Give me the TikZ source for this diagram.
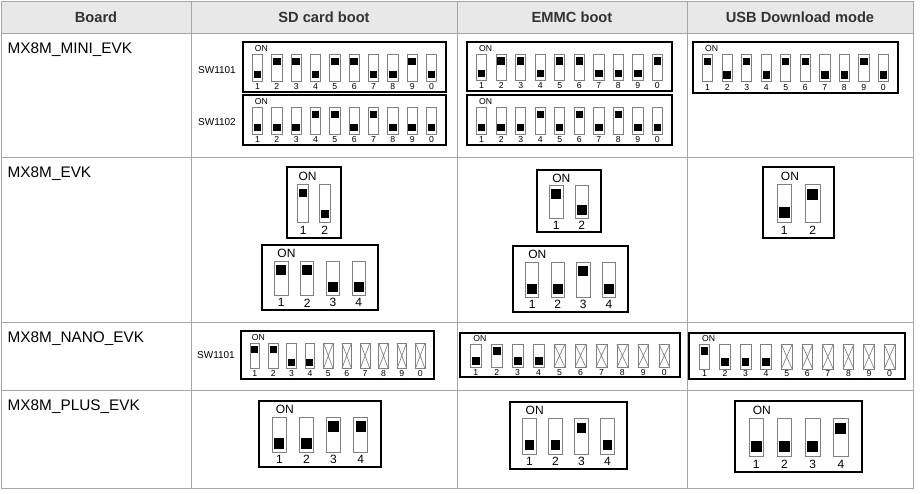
\documentclass[tikz,border=0pt]{standalone}
\usepackage{fontspec}
\setmainfont{Liberation Sans}
\newcommand\dipsw[7]{%
  \pgfmathsetmacro\pp{(#3-#1)/(#5+0.5)}
  \pgfmathsetmacro\hh{#4-#2}
  \draw[swbox] (#1,#2) rectangle (#3,#4);
  \node[font=#7] at (#1+0.75*\pp+0.2*\pp,#2+0.13*\hh) {ON};
  \foreach \s [count=\i] in {#6} {
    \pgfmathsetmacro\cx{#1+(\i-0.25)*\pp}
    \pgfmathsetmacro\ta{#2+0.25*\hh}
    \pgfmathsetmacro\tb{#2+0.78*\hh}
    \pgfmathtruncatemacro\num{mod(\i,10)}
    \draw[slot] (\cx-0.26*\pp,\ta) rectangle (\cx+0.26*\pp,\tb);
    \if u\s
      \fill (\cx-0.19*\pp,\ta+0.06*\hh) rectangle (\cx+0.19*\pp,\ta+0.06*\hh+0.38*\pp);
    \else\if d\s
      \fill (\cx-0.19*\pp,\tb-0.06*\hh) rectangle (\cx+0.19*\pp,\tb-0.06*\hh-0.38*\pp);
    \else
      \draw[slot] (\cx-0.26*\pp,\ta) -- (\cx+0.26*\pp,\tb) (\cx+0.26*\pp,\ta) -- (\cx-0.26*\pp,\tb);
    \fi\fi
    \node[font=#7] at (\cx,#2+0.89*\hh) {\num};
  }}
\begin{document}
\begin{tikzpicture}[x=0.75pt,y=-0.75pt,
  grid/.style={draw=gray!70,line width=0.6pt},
  swbox/.style={draw,line width=1.3pt},
  slot/.style={draw=gray,line width=0.5pt},
  head/.style={font=\bfseries\fontsize{11}{13}\selectfont,text=black!80},
  board/.style={anchor=north west,font=\fontsize{11.5}{13}\selectfont},
  swname/.style={font=\fontsize{7.5}{9}\selectfont}]
\useasboundingbox (0,0) rectangle (921,493);
% table
\fill[gray!18] (1,1) rectangle (913,33);
\draw[grid] (1,1) rectangle (913,488);
\foreach \yy in {33,157,322,390} \draw[grid] (1,\yy) -- (913,\yy);
\foreach \xx in {191,457,687} \draw[grid] (\xx,1) -- (\xx,488);
\node[head] (h1) at (96,17) {Board};
\node[head] (h2) at (324,17) {SD card boot};
\node[head] (h3) at (572,17) {EMMC boot};
\node[head] (h4) at (800,17) {USB Download mode};
\node[board] (b1) at (3,38) {MX8M\_MINI\_EVK};
\node[board] (b2) at (3,162) {MX8M\_EVK};
\node[board] (b3) at (3,327) {MX8M\_NANO\_EVK};
\node[board] (b4) at (3,395) {MX8M\_PLUS\_EVK};
% MX8M_MINI_EVK
\node[swname] (s1) at (217,70) {SW1101};
\node[swname] (s2) at (217,122) {SW1102};
\dipsw{243}{42}{446}{92}{10}{d,u,u,d,u,u,d,d,u,d}{\fontsize{6.5}{7}\selectfont}
\dipsw{243}{95}{446}{145}{10}{d,d,d,u,u,d,u,d,d,d}{\fontsize{6.5}{7}\selectfont}
\dipsw{467}{42}{672}{91}{10}{d,u,u,d,u,u,d,d,d,u}{\fontsize{6.5}{7}\selectfont}
\dipsw{467}{95}{672}{145}{10}{d,d,d,u,d,u,d,u,d,d}{\fontsize{6.5}{7}\selectfont}
\dipsw{693}{42}{898}{93}{10}{u,d,u,d,u,u,d,d,u,d}{\fontsize{6.5}{7}\selectfont}
% MX8M_EVK
\dipsw{287}{167}{341}{238}{2}{u,d}{\fontsize{9}{10}\selectfont}
\dipsw{262}{245}{378}{310}{4}{u,u,d,d}{\fontsize{9}{10}\selectfont}
\dipsw{537}{170}{601}{232}{2}{u,d}{\fontsize{9}{10}\selectfont}
\dipsw{513}{246}{628}{312}{4}{d,d,u,d}{\fontsize{9}{10}\selectfont}
\dipsw{763}{167}{834}{238}{2}{d,u}{\fontsize{9}{10}\selectfont}
% MX8M_NANO_EVK
\node[swname] (s3) at (216,355) {SW1101};
\dipsw{241}{331}{434}{379}{10}{u,u,d,d,x,x,x,x,x,x}{\fontsize{6.5}{7}\selectfont}
\dipsw{460}{333}{680}{377}{10}{d,u,d,d,x,x,x,x,x,x}{\fontsize{6.5}{7}\selectfont}
\dipsw{689}{333}{905}{379}{10}{u,d,d,d,x,x,x,x,x,x}{\fontsize{6.5}{7}\selectfont}
% MX8M_PLUS_EVK
\dipsw{259}{401}{381}{467}{4}{d,d,u,u}{\fontsize{9}{10}\selectfont}
\dipsw{510}{402}{627}{469}{4}{d,d,u,d}{\fontsize{9}{10}\selectfont}
\dipsw{735}{401}{862}{472}{4}{d,d,d,u}{\fontsize{9}{10}\selectfont}
\end{tikzpicture}
\end{document}
